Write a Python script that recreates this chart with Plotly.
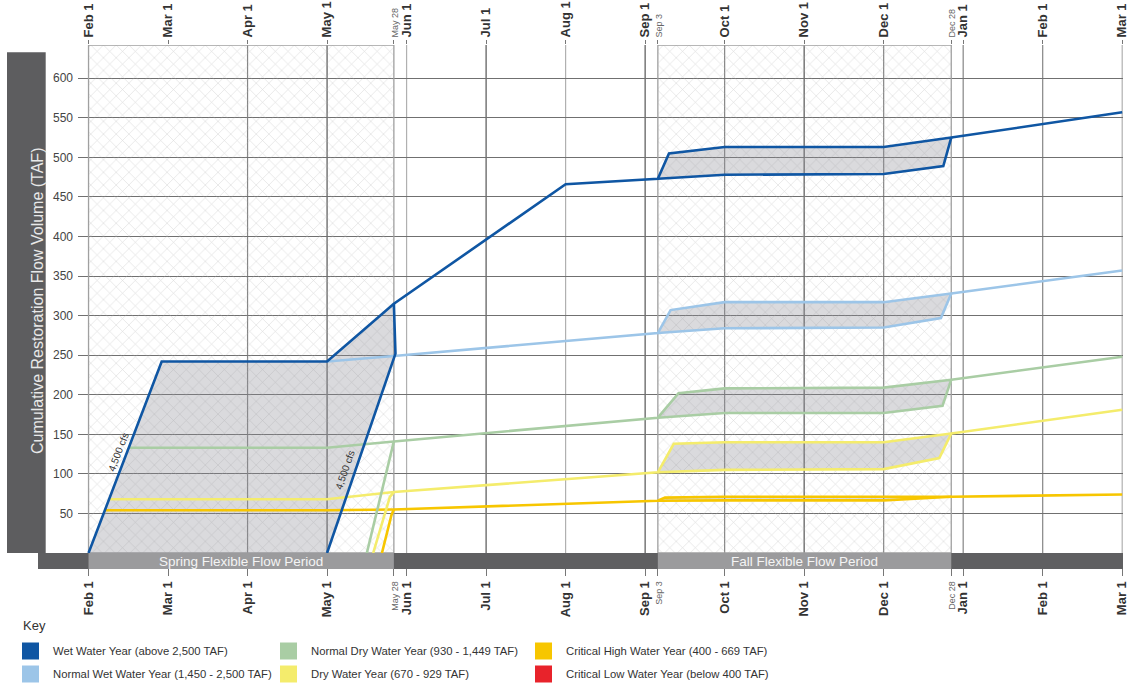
import plotly.graph_objects as go

# ---------------- DATA ----------------
# x positions are in months after Feb 1 (Feb 1 = 0 ... Mar 1 of the next year = 13)
month_ticks = [0, 1, 2, 3, 4, 5, 6, 7, 8, 9, 10, 11, 12, 13]
month_labels = ["Feb 1", "Mar 1", "Apr 1", "May 1", "Jun 1", "Jul 1", "Aug 1",
                "Sep 1", "Oct 1", "Nov 1", "Dec 1", "Jan 1", "Feb 1", "Mar 1"]
special_ticks = [3.84, 7.16, 10.85]
special_labels = ["May 28", "Sep 3", "Dec 28"]

period_names = ["Spring Flexible Flow Period", "Fall Flexible Flow Period"]
period_start = [0, 7.16]
period_end = [3.84, 10.85]

y_ticks = [50, 100, 150, 200, 250, 300, 350, 400, 450, 500, 550, 600]

# Wet Water Year
wet_x = [0, 0.92, 3.0, 3.84, 6.0, 7.16, 7.3, 8.0, 10.0, 10.85, 13.0]
wet_y = [0, 242, 242, 315, 466, 473, 505, 513, 513, 525, 557]
wet_spring_x = [3.0, 3.81, 3.86, 3.84]
wet_spring_y = [0, 240, 252, 315]
wet_fall_x = [7.16, 8.0, 10.0, 10.75, 10.85]
wet_fall_y = [473, 478, 479, 489, 525]

# Normal Wet Water Year
nwet_x = [3.0, 3.84, 7.16, 7.32, 8.0, 10.0, 10.85, 13.0]
nwet_y = [242, 249, 278, 307, 317, 317, 328, 357]
nwet_fall_x = [7.16, 8.0, 10.0, 10.72, 10.85]
nwet_fall_y = [278, 284, 285, 297, 328]

# Normal Dry Water Year
ndry_x = [0.52, 3.0, 3.84, 7.16, 7.42, 8.0, 10.0, 10.85, 13.0]
ndry_y = [133, 133, 141, 171, 202, 208, 209, 219, 248]
ndry_spring_x = [3.5, 3.82, 3.84]
ndry_spring_y = [0, 131, 141]
ndry_fall_x = [7.16, 8.0, 10.0, 10.74, 10.85]
ndry_fall_y = [171, 177, 177, 186, 219]

# Dry Water Year
dry_x = [0.26, 3.0, 3.84, 7.16, 7.36, 8.0, 10.0, 10.85, 13.0]
dry_y = [68, 68, 77, 102, 138, 140, 140, 151, 181]
dry_spring_x = [3.58, 3.79, 3.84]
dry_spring_y = [0, 71, 77]
dry_fall_x = [7.16, 8.0, 10.0, 10.7, 10.85]
dry_fall_y = [102, 105, 106, 120, 151]

# Critical High Water Year
chigh_x = [0.21, 3.0, 3.84, 7.16, 7.25, 8.0, 10.0, 10.85, 13.0]
chigh_y = [54, 54, 55, 66, 70, 71, 71, 71, 74]
chigh_spring_x = [3.69, 3.81, 3.84]
chigh_spring_y = [0, 48, 55]
chigh_fall_x = [7.16, 8.0, 10.0, 10.85]
chigh_fall_y = [66, 66.5, 66.5, 71]

legend_names = ["Wet Water Year (above 2,500 TAF)",
                "Normal Wet Water Year (1,450 - 2,500 TAF)",
                "Normal Dry Water Year (930 - 1,449 TAF)",
                "Dry Water Year (670 - 929 TAF)",
                "Critical High Water Year (400 - 669 TAF)",
                "Critical Low Water Year (below 400 TAF)"]

cfs_label = "4,500 cfs"
cfs_label_x = [0.38, 3.23]
cfs_label_y = [128, 105]

# ---------------- STYLE ----------------
C_WET = "#0f56a3"
C_NWET = "#9cc5e8"
C_NDRY = "#a9cda4"
C_DRY = "#f4ec6c"
C_CHIGH = "#f7c600"
C_CLOW = "#e8232b"
legend_colors = [C_WET, C_NWET, C_NDRY, C_DRY, C_CHIGH, C_CLOW]
FILL = "rgba(140,140,148,0.32)"
FONT = "Liberation Sans, Arial, sans-serif"

W, H = 1132, 685
L, R, T, B = 78, 1123, 45, 553
Y_TOP = 642
X_MIN, X_MAX = -0.1325, 13.01


def px_x(p):
    return (p - L) / (R - L)


def px_y(p):
    return (B - p) / (B - T)


fig = go.Figure()

# hatched flexible flow periods
for s, e in zip(period_start, period_end):
    fig.add_trace(go.Scatter(
        x=[s, e, e, s, s], y=[0, 0, Y_TOP, Y_TOP, 0], mode="lines", fill="toself",
        fillcolor="rgba(255,255,255,0)",
        fillpattern=dict(shape="x", fgcolor="#b8b8b8", bgcolor="rgba(255,255,255,0)",
                         size=9, solidity=0.13),
        line=dict(color="#a0a0a0", width=1.3), hoverinfo="skip", showlegend=False))

# (main path, [(branch x, branch y, period index or None)], colour)
series = [
    (chigh_x, chigh_y, [(chigh_spring_x, chigh_spring_y, None), (chigh_fall_x, chigh_fall_y, 1)], C_CHIGH),
    (dry_x, dry_y, [(dry_spring_x, dry_spring_y, None), (dry_fall_x, dry_fall_y, 1)], C_DRY),
    (ndry_x, ndry_y, [(ndry_spring_x, ndry_spring_y, None), (ndry_fall_x, ndry_fall_y, 1)], C_NDRY),
    (nwet_x, nwet_y, [(nwet_fall_x, nwet_fall_y, 1)], C_NWET),
    (wet_x, wet_y, [(wet_spring_x, wet_spring_y, 0), (wet_fall_x, wet_fall_y, 1)], C_WET),
]

# gray band fills between the upper path and the lower branches
for mx, my, branches, col in series:
    for bx, by, pi in branches:
        if pi is None:
            continue
        lo, hi = period_start[pi] - 1e-9, period_end[pi] + 1e-9
        ux = [x for x in mx if lo <= x <= hi]
        uy = [y for x, y in zip(mx, my) if lo <= x <= hi]
        fig.add_trace(go.Scatter(x=ux + bx[::-1], y=uy + by[::-1], mode="lines",
                                 fill="toself", fillcolor=FILL, line=dict(width=0),
                                 hoverinfo="skip", showlegend=False))

# lines
for mx, my, branches, col in series:
    for bx, by, _ in branches:
        fig.add_trace(go.Scatter(x=bx, y=by, mode="lines", line=dict(color=col, width=2.6),
                                 hoverinfo="skip", showlegend=False))
    fig.add_trace(go.Scatter(x=mx, y=my, mode="lines", line=dict(color=col, width=2.6),
                             hoverinfo="skip", showlegend=False))

# invisible trace for the top axis
fig.add_trace(go.Scatter(x=[0, 13], y=[0, 0], xaxis="x2", mode="markers",
                         marker=dict(opacity=0), hoverinfo="skip", showlegend=False))

all_ticks = month_ticks + special_ticks
all_text = ["<b>%s</b>" % t for t in month_labels] + \
    ["<span style='font-size:9px;fill:#666'>%s</span>" % t for t in special_labels]

axis_common = dict(range=[X_MIN, X_MAX], tickvals=all_ticks, ticktext=all_text,
                   tickangle=-90, tickfont=dict(size=13, color="#333", family=FONT),
                   showgrid=False, zeroline=False, showline=False, ticks="outside",
                   tickcolor="#777", tickwidth=1, automargin=False,
                   ticklabeloverflow="allow")

shapes = []
# vertical month lines
grid_dark = [3, 5, 7, 9]
grid_mid = [2, 8, 10, 11, 12]
grid_light = [4, 6, 13]
for v in month_ticks:
    if v in grid_dark:
        c = "#555"
    elif v in grid_mid:
        c = "#858585"
    elif v in grid_light:
        c = "#b0b0b0"
    else:
        continue
    shapes.append(dict(type="line", xref="x", yref="paper", x0=v, x1=v, y0=0, y1=1,
                       line=dict(color=c, width=1.2), layer="below"))

# left title box
shapes.append(dict(type="rect", xref="paper", yref="paper", x0=px_x(7), x1=px_x(45.7),
                   y0=0, y1=px_y(52.3), fillcolor="#5d5d5f", line=dict(width=0), layer="above"))
# bottom band
shapes.append(dict(type="rect", xref="paper", yref="paper", x0=px_x(38), x1=1.0,
                   y0=px_y(569), y1=0, fillcolor="#5f5f61", line=dict(width=0), layer="above"))

annotations = []
for name, s, e in zip(period_names, period_start, period_end):
    shapes.append(dict(type="rect", xref="x", yref="paper", x0=s, x1=e,
                       y0=px_y(569), y1=0, fillcolor="#9b9b9d",
                       line=dict(width=0), layer="above"))
    annotations.append(dict(x=(s + e) / 2, y=px_y(561), xref="x", yref="paper", text=name,
                            showarrow=False, font=dict(size=13.5, color="#f4f4f4", family=FONT),
                            xanchor="center", yanchor="middle"))

annotations.append(dict(x=px_x(26.5), y=px_y(301), xref="paper", yref="paper",
                        text="Cumulative Restoration Flow Volume (TAF)", textangle=-90,
                        showarrow=False, font=dict(size=16, color="#e8e8e8", family=FONT)))

for cx, cy, ang in zip(cfs_label_x, cfs_label_y, [-69, -71]):
    annotations.append(dict(x=cx, y=cy, xref="x", yref="y", text=cfs_label, textangle=ang,
                            showarrow=False, font=dict(size=10, color="#333", family=FONT)))

# key
annotations.append(dict(x=px_x(21), y=px_y(625), xref="paper", yref="paper", text="Key",
                        showarrow=False, xanchor="left", yanchor="middle",
                        font=dict(size=13, color="#333", family=FONT)))
col_x = [22, 280, 535]
row_y = [651, 674]
for i, (nm, col) in enumerate(zip(legend_names, legend_colors)):
    cx = col_x[i // 2]
    cy = row_y[i % 2]
    shapes.append(dict(type="rect", xref="paper", yref="paper", x0=px_x(cx), x1=px_x(cx + 17),
                       y0=px_y(cy + 8.5), y1=px_y(cy - 8.5), fillcolor=col,
                       line=dict(width=0), layer="above"))
    annotations.append(dict(x=px_x(cx + 29), y=px_y(cy), xref="paper", yref="paper", text=nm,
                            showarrow=False, xanchor="left", yanchor="middle",
                            font=dict(size=11.3, color="#333", family=FONT)))

fig.update_layout(
    width=W, height=H,
    margin=dict(l=L, r=W - R, t=T, b=H - B, pad=0, autoexpand=False),
    paper_bgcolor="white", plot_bgcolor="white",
    font=dict(family=FONT, color="#333"),
    xaxis=dict(side="bottom", ticklen=22, **axis_common),
    xaxis2=dict(side="top", overlaying="x", ticklen=4, **axis_common),
    yaxis=dict(range=[0, Y_TOP], tickvals=y_ticks, showgrid=True, gridcolor="#707070",
               gridwidth=1, zeroline=False, showline=False, ticks="", automargin=False,
               tickfont=dict(size=12, color="#444", family=FONT), ticklabelstandoff=4),
    shapes=shapes, annotations=annotations, showlegend=False,
)

fig.write_html("out.html", config={"displayModeBar": False},
               post_script="document.body.style.margin='0px';document.body.style.overflow='hidden';")
